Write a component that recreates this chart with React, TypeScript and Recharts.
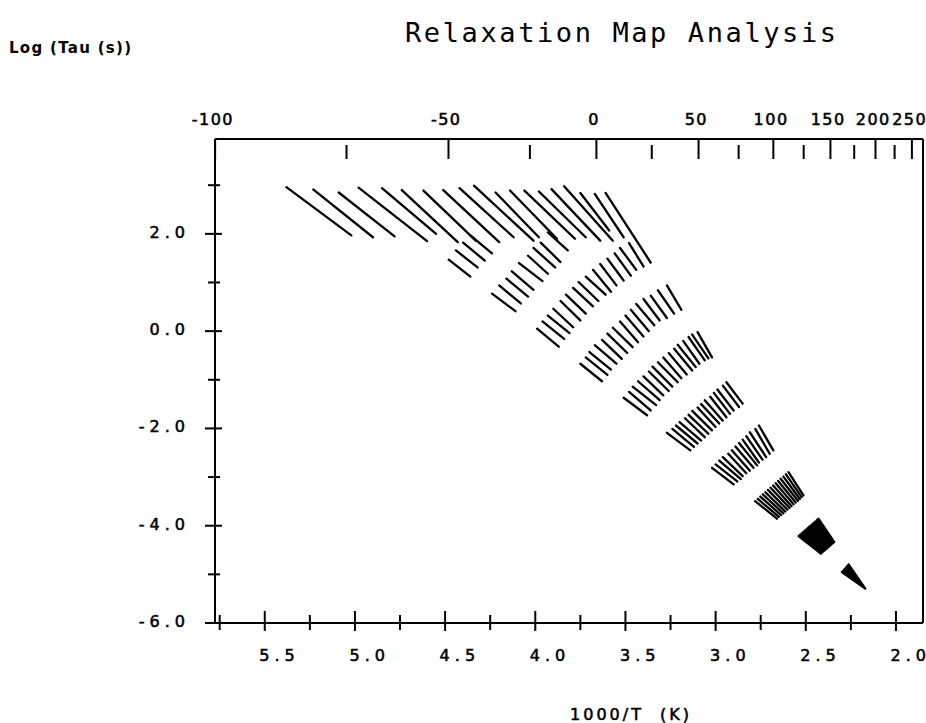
import { ComposedChart, Line, XAxis, YAxis } from "recharts";

type Seg = [number, number, number, number];

// each relaxation line: [1000/T start, log tau start, 1000/T end, log tau end]
const plateauLines: Seg[] = [
  [5.38, 2.96, 5.02, 1.97],
  [5.23, 2.91, 4.9, 1.93],
  [5.09, 2.85, 4.78, 1.95],
  [4.98, 2.95, 4.6, 1.85],
  [4.85, 2.94, 4.55, 2.0],
  [4.74, 2.9, 4.43, 1.83],
  [4.62, 2.89, 4.33, 1.86],
  [4.51, 2.9, 4.2, 1.83],
  [4.42, 2.94, 4.12, 1.93],
  [4.34, 2.99, 4.01, 1.86],
  [4.22, 2.85, 3.98, 1.93],
  [4.14, 2.89, 3.88, 1.9],
  [4.06, 2.89, 3.78, 1.9],
  [3.98, 2.87, 3.72, 1.93],
  [3.91, 2.92, 3.64, 1.86],
  [3.84, 2.98, 3.57, 1.86],
  [3.75, 2.84, 3.59, 2.07],
  [3.67, 2.82, 3.51, 1.93],
  [3.61, 2.84, 3.36, 1.41],
];

const stripB: Seg[] = [
  [4.48, 1.47, 4.36, 1.12],
  [4.44, 1.66, 4.32, 1.31],
  [4.4, 1.82, 4.28, 1.45],
  [4.36, 1.97, 4.24, 1.6],
];

const stripC: Seg[] = [
  [4.24, 0.77, 4.11, 0.41],
  [4.2, 0.94, 4.08, 0.57],
  [4.16, 1.08, 4.04, 0.71],
  [4.13, 1.23, 4.01, 0.85],
  [4.09, 1.4, 3.96, 1.03],
  [4.04, 1.55, 3.93, 1.18],
  [4.01, 1.71, 3.89, 1.31],
  [3.97, 1.82, 3.86, 1.42],
  [3.93, 2.03, 3.82, 1.66],
];

const stripD: Seg[] = [
  [3.99, 0.05, 3.87, -0.32],
  [3.96, 0.2, 3.84, -0.16],
  [3.93, 0.32, 3.81, -0.04],
  [3.9, 0.46, 3.79, 0.08],
  [3.86, 0.62, 3.75, 0.22],
  [3.83, 0.75, 3.72, 0.36],
  [3.79, 0.89, 3.68, 0.51],
  [3.76, 1.01, 3.65, 0.62],
  [3.72, 1.12, 3.61, 0.75],
  [3.68, 1.26, 3.58, 0.81],
  [3.64, 1.38, 3.55, 0.94],
  [3.6, 1.49, 3.51, 1.04],
  [3.56, 1.6, 3.47, 1.14],
  [3.53, 1.71, 3.44, 1.26],
  [3.48, 1.81, 3.4, 1.33],
];

const stripE: Seg[] = [
  [3.75, -0.67, 3.63, -1.03],
  [3.72, -0.54, 3.6, -0.9],
  [3.7, -0.43, 3.58, -0.79],
  [3.67, -0.29, 3.55, -0.67],
  [3.63, -0.18, 3.52, -0.57],
  [3.6, -0.05, 3.49, -0.45],
  [3.57, 0.07, 3.46, -0.33],
  [3.53, 0.2, 3.43, -0.23],
  [3.5, 0.32, 3.4, -0.11],
  [3.47, 0.44, 3.37, 0.0],
  [3.44, 0.56, 3.34, 0.12],
  [3.4, 0.66, 3.31, 0.22],
  [3.36, 0.73, 3.27, 0.27],
  [3.32, 0.84, 3.23, 0.36],
  [3.27, 0.94, 3.19, 0.44],
];

const stripF: Seg[] = [
  [3.51, -1.37, 3.38, -1.73],
  [3.48, -1.25, 3.36, -1.63],
  [3.46, -1.14, 3.33, -1.52],
  [3.43, -1.03, 3.31, -1.42],
  [3.4, -0.93, 3.29, -1.32],
  [3.37, -0.83, 3.26, -1.23],
  [3.35, -0.73, 3.24, -1.14],
  [3.32, -0.64, 3.21, -1.05],
  [3.29, -0.54, 3.19, -0.97],
  [3.26, -0.45, 3.16, -0.89],
  [3.23, -0.36, 3.13, -0.81],
  [3.21, -0.28, 3.11, -0.74],
  [3.18, -0.2, 3.09, -0.67],
  [3.15, -0.12, 3.06, -0.6],
  [3.13, -0.07, 3.04, -0.56],
  [3.1, -0.02, 3.02, -0.54],
];

const stripG: Seg[] = [
  [3.27, -2.09, 3.14, -2.45],
  [3.24, -2.01, 3.12, -2.38],
  [3.22, -1.94, 3.1, -2.31],
  [3.2, -1.87, 3.08, -2.25],
  [3.17, -1.79, 3.06, -2.18],
  [3.15, -1.72, 3.04, -2.11],
  [3.13, -1.64, 3.02, -2.04],
  [3.1, -1.57, 3.0, -1.97],
  [3.08, -1.5, 2.98, -1.9],
  [3.06, -1.42, 2.96, -1.84],
  [3.03, -1.35, 2.94, -1.77],
  [3.01, -1.27, 2.92, -1.7],
  [2.99, -1.2, 2.9, -1.63],
  [2.96, -1.12, 2.87, -1.56],
  [2.94, -1.05, 2.85, -1.49],
];

const stripH: Seg[] = [
  [3.02, -2.81, 2.9, -3.15],
  [3.0, -2.74, 2.88, -3.09],
  [2.98, -2.66, 2.86, -3.04],
  [2.96, -2.59, 2.85, -2.98],
  [2.93, -2.52, 2.83, -2.92],
  [2.91, -2.45, 2.81, -2.87],
  [2.89, -2.37, 2.79, -2.81],
  [2.87, -2.3, 2.77, -2.76],
  [2.85, -2.23, 2.76, -2.7],
  [2.83, -2.16, 2.74, -2.64],
  [2.81, -2.08, 2.72, -2.59],
  [2.78, -2.01, 2.7, -2.52],
  [2.76, -1.94, 2.68, -2.45],
];

const stripI: Seg[] = [
  [2.781, -3.494, 2.66, -3.855],
  [2.766, -3.448, 2.649, -3.818],
  [2.752, -3.401, 2.637, -3.781],
  [2.738, -3.356, 2.625, -3.746],
  [2.724, -3.311, 2.614, -3.709],
  [2.71, -3.264, 2.602, -3.672],
  [2.695, -3.218, 2.59, -3.635],
  [2.681, -3.173, 2.579, -3.598],
  [2.667, -3.126, 2.568, -3.561],
  [2.653, -3.081, 2.556, -3.524],
  [2.639, -3.035, 2.544, -3.487],
  [2.624, -2.99, 2.533, -3.45],
  [2.61, -2.943, 2.523, -3.413],
  [2.596, -2.898, 2.513, -3.377],
];

const stripJ: Seg[] = [
  [2.54, -4.213, 2.416, -4.574],
  [2.532, -4.186, 2.411, -4.556],
  [2.523, -4.157, 2.405, -4.537],
  [2.515, -4.131, 2.399, -4.519],
  [2.506, -4.102, 2.393, -4.5],
  [2.498, -4.075, 2.388, -4.484],
  [2.489, -4.048, 2.382, -4.465],
  [2.481, -4.02, 2.377, -4.447],
  [2.472, -3.993, 2.371, -4.428],
  [2.463, -3.964, 2.365, -4.41],
  [2.455, -3.937, 2.36, -4.391],
  [2.447, -3.911, 2.354, -4.373],
  [2.438, -3.882, 2.348, -4.354],
  [2.43, -3.855, 2.342, -4.336],
];

const stripK: Seg[] = [
  [2.3, -4.952, 2.17, -5.293],
  [2.292, -4.921, 2.17, -5.293],
  [2.285, -4.889, 2.17, -5.293],
  [2.277, -4.858, 2.17, -5.293],
  [2.27, -4.825, 2.17, -5.293],
  [2.263, -4.794, 2.17, -5.293],
];

// the plateau is drawn against the Celsius axis (same scale), the rest against 1000/T
const lowerStrips = [stripB, stripC, stripD, stripE, stripF, stripG, stripH, stripI, stripJ, stripK];

const invTempTicks = [5.75, 5.5, 5.25, 5.0, 4.75, 4.5, 4.25, 4.0, 3.75, 3.5, 3.25, 3.0, 2.75, 2.5, 2.25, 2.0];
const invTempLabels = [5.5, 5.0, 4.5, 4.0, 3.5, 3.0, 2.5, 2.0];
const logTauTicks = [-6, -5, -4, -3, -2, -1, 0, 1, 2, 3];
const logTauLabels = [-6, -4, -2, 0, 2];
const celsiusTicks = [-100, -75, -50, -25, 0, 25, 50, 75, 100, 125, 150, 175, 200, 225, 250];
const celsiusLabels = [-100, -50, 0, 50, 100, 150, 200, 250];

const X_DOMAIN: [number, number] = [1.85, 5.776];
const Y_DOMAIN: [number, number] = [-6, 3.95];

const toInvT = (c: number) => 1000 / (c + 273.15);
const topTicks = celsiusTicks.map(toInvT);

// pen-up between segments: a null point breaks the path
const asPath = (segs: Seg[]) =>
  segs.flatMap(([x1, y1, x2, y2]) => [
    { x: x1, y: y1 },
    { x: x2, y: y2 },
    { x: x2, y: null },
  ]);

const MONO = "'DejaVu Sans Mono', monospace";
const SANS = "'DejaVu Sans', sans-serif";
const INK = "#000";

// plotter-style lettering: spaced glyphs, no trailing gap, slightly heavier pen
function PlotText({ x, y, text, gap = 4, size = 16, anchor = "start" }: any) {
  return (
    <text
      x={x}
      y={y}
      textAnchor={anchor}
      fontFamily={SANS}
      fontSize={size}
      fill={INK}
      stroke={INK}
      strokeWidth={0.55}
    >
      {String(text)
        .split("")
        .map((ch: string, i: number) => (
          <tspan key={i} dx={i ? gap : 0}>
            {ch === " " ? "\u00a0" : ch}
          </tspan>
        ))}
    </text>
  );
}

function BottomTick({ x, y, payload }: any) {
  const v = payload.value;
  const major = invTempLabels.some((l) => Math.abs(l - v) < 1e-6);
  return (
    <g>
      <line x1={x} x2={x} y1={y - (major ? 12 : 8)} y2={y + (major ? 8 : 7)} stroke={INK} strokeWidth={2} />
      {major && <PlotText x={x - 5.5} y={y + 38} text={v.toFixed(1)} gap={5} />}
    </g>
  );
}

function TopTick({ x, y, payload }: any) {
  const c = Math.round(1000 / payload.value - 273.15);
  const major = celsiusLabels.includes(c);
  return (
    <g>
      <line x1={x} x2={x} y1={y + (major ? 0 : 6)} y2={y + 20} stroke={INK} strokeWidth={2} />
      {major && <PlotText x={x - 3} y={y - 14} text={c} gap={1.5} anchor="middle" />}
    </g>
  );
}

function LeftTick({ x, y, payload }: any) {
  const v = payload.value;
  const major = logTauLabels.includes(v);
  return (
    <g>
      <line x1={x - (major ? 10 : 7)} x2={x + (major ? 7 : 5)} y1={y} y2={y} stroke={INK} strokeWidth={2} />
      {major && <PlotText x={x - 30} y={y + 4} text={v.toFixed(1)} gap={5} anchor="end" />}
    </g>
  );
}

export default function App() {
  const axisLine = { stroke: INK, strokeWidth: 2 };
  const pen = {
    dataKey: "y",
    stroke: INK,
    strokeWidth: 2.3,
    strokeLinecap: "round" as const,
    dot: false,
    activeDot: false,
    connectNulls: false,
    isAnimationActive: false,
  };
  return (
    <div style={{ position: "absolute", left: 0, top: 0, width: 926, height: 723, background: "#fff", overflow: "hidden" }}>
      <ComposedChart width={926} height={723} margin={{ top: 0, right: 0, bottom: 0, left: 0 }}>
        <XAxis
          dataKey="x"
          type="number"
          domain={X_DOMAIN}
          allowDataOverflow
          reversed
          ticks={invTempTicks}
          interval={0}
          tickSize={0}
          tickMargin={0}
          tickLine={false}
          tick={BottomTick}
          axisLine={axisLine}
          height={100}
        />
        <XAxis
          xAxisId="top"
          dataKey="x"
          orientation="top"
          type="number"
          domain={X_DOMAIN}
          allowDataOverflow
          reversed
          ticks={topTicks}
          interval={0}
          tickSize={0}
          tickMargin={0}
          tickLine={false}
          tick={TopTick}
          axisLine={axisLine}
          height={139}
        />
        <YAxis
          type="number"
          domain={Y_DOMAIN}
          allowDataOverflow
          ticks={logTauTicks}
          interval={0}
          tickSize={0}
          tickMargin={0}
          tickLine={false}
          tick={LeftTick}
          axisLine={axisLine}
          width={215}
        />
        <YAxis
          yAxisId="right"
          orientation="right"
          type="number"
          domain={Y_DOMAIN}
          allowDataOverflow
          tick={false}
          tickLine={false}
          axisLine={axisLine}
          width={3}
        />
        <Line xAxisId="top" data={asPath(plateauLines)} {...pen} />
        {lowerStrips.map((s, i) => (
          <Line key={i} data={asPath(s)} {...pen} />
        ))}
      </ComposedChart>
      <svg width={926} height={723} style={{ position: "absolute", left: 0, top: 0, pointerEvents: "none" }}>
        <text x={405} y={42} fontFamily={MONO} fontSize={27} letterSpacing={2.6} fill={INK}>
          Relaxation Map Analysis
        </text>
        <text x={9} y={53} fontFamily={SANS} fontWeight="bold" fontSize={15} letterSpacing={1.3} fill={INK}>
          Log (Tau (s))
        </text>
        <PlotText x={570} y={720} text="1000/T  (K)" gap={3} />
      </svg>
    </div>
  );
}
